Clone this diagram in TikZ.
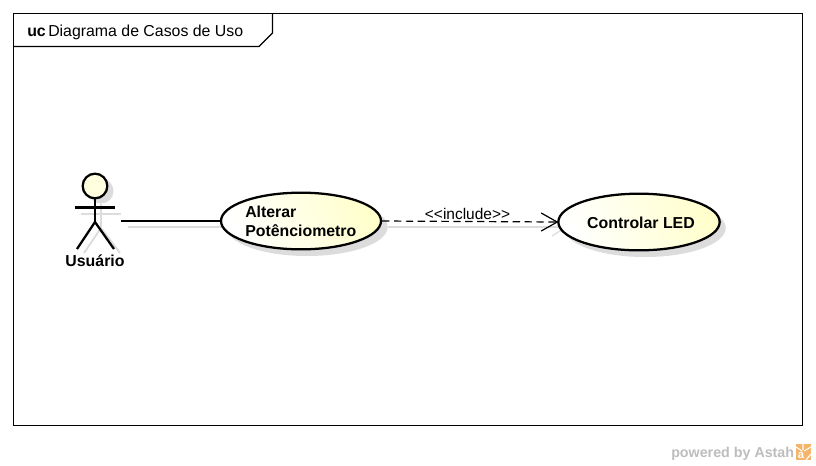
\documentclass[tikz,border=0pt]{standalone}
\usepackage{fontspec}
\setmainfont{Liberation Sans}
\usetikzlibrary{shapes.geometric,arrows.meta,calc}
\definecolor{ucyellow}{HTML}{FFFFCC}
\definecolor{shade1}{HTML}{DCDCDC}
\definecolor{wm}{HTML}{BDBDBD}
\definecolor{astah}{HTML}{F4B56A}
\tikzset{
  line/.style={draw=black,line width=0.9pt},
  heavy/.style={draw=black,line width=1.7pt},
  shadowline/.style={draw=shade1,line width=0.9pt},
  usecase/.style={ellipse,inner sep=0pt,minimum width=120pt,minimum height=42.5pt,heavy,
     shading=axis,left color=white,right color=ucyellow,shading angle=110},
  usecaseshadow/.style={ellipse,inner sep=0pt,minimum width=121pt,minimum height=43.5pt,fill=shade1},
  bold/.style={font=\fontsize{11.9}{14}\selectfont\bfseries,text=black},
  thin/.style={font=\fontsize{11.9}{14}\selectfont,text=black},
}
\begin{document}
\begin{tikzpicture}[x=0.75pt,y=-0.75pt]
\useasboundingbox (0,0) rectangle (816,465);
\fill[white] (0,0) rectangle (816,465);
% frame
\draw[line] (13.5,13.5) rectangle (802.5,425.5);
\draw[line] (13.5,46.5) -- (259,46.5) -- (272.5,33) -- (272.5,13.5);
\node[bold,anchor=base west,inner sep=0pt] (ucword) at (27,36) {uc};
\node[thin,anchor=base west,inner sep=0pt] (frametitle) at (48,36) {Diagrama de Casos de Uso};
% shadows
\node[usecaseshadow] (s1) at (307,227) {};
\node[usecaseshadow] (s2) at (645,228) {};
\draw[shadowline] (128,227) -- (228,227);
\draw[shadowline] (388,227) -- (560,227);
\draw[shadowline] (552,236) -- (566,227);
% actor shadow
\fill[shade1] (101,191) circle (12.5);
\draw[shadowline,line width=1.4pt] (81,214) -- (121,214);
\draw[shadowline,line width=1.4pt] (101,204) -- (101,228) -- (84,253);
\draw[shadowline,line width=1.4pt] (101,228) -- (120,253);
% actor
\node[circle,inner sep=0pt,minimum size=18.5pt,heavy,fill=ucyellow!60] (head) at (95,186) {};
\coordinate (hip) at (95,222);
\coordinate (handl) at (75,207.5);
\coordinate (handr) at (115,207.5);
\coordinate (footl) at (77,249);
\coordinate (footr) at (114,249);
\coordinate (port) at (121,221);
\draw[heavy] (head.south) -- (hip);
\draw[heavy] (handl) -- (handr);
\draw[heavy] (footl) -- (hip) -- (footr);
\node[bold] (actorlabel) at (95,261) {Usuário};
% use cases
\node[usecase] (alt) at (301,221) {};
\node[usecase,minimum width=121pt] (led) at (639,222) {};
\node[bold,align=left,anchor=west,inner sep=0pt,font=\fontsize{11.9}{14}\selectfont\bfseries] (altlabel) at (245,221) {Alterar\\Potênciometro};
\node[bold] (ledlabel) at (641,223) {Controlar LED};
% connectors
\draw[line] (port) -- (alt.west);
\draw[draw=black,line width=0.9pt,dash pattern=on 5.5pt off 3.4pt] (alt.east) -- (led.west);
\draw[draw=black,line width=0.9pt] ($(led.west)+(-16,-9)$) -- (led.west) -- ($(led.west)+(-16,9)$);
\node[thin,font=\fontsize{11.6}{14}\selectfont] (inc) at (467.5,213.5) {<{}<include>{}>};
% watermark
\node[anchor=base west,inner sep=0pt,text=wm,font=\fontsize{10.7}{12}\selectfont\bfseries] (wmtext) at (671,457) {powered by Astah};
\fill[astah] (796,444) rectangle (811,460);
\draw[white,line width=0.8pt] (803,444) -- (803,450) (796,447) -- (802,451) (811,447) -- (804,451) (806,460) -- (811,454);
\node[inner sep=0pt,text=white,font=\fontsize{8.5}{9}\selectfont\bfseries] (wmicon) at (801,455) {a};
\end{tikzpicture}
\end{document}
